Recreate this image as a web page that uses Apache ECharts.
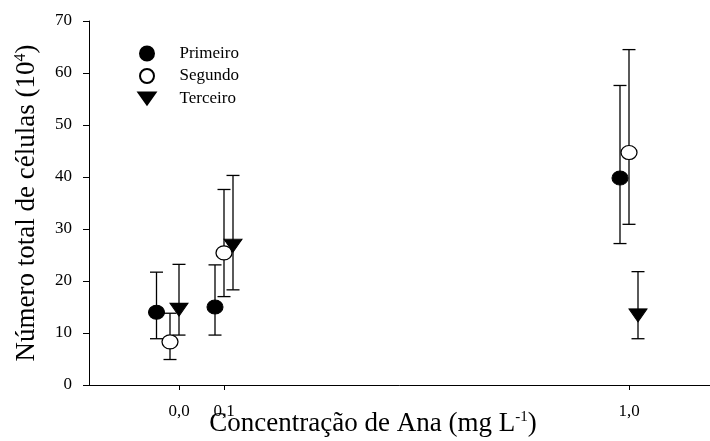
<!DOCTYPE html>
<html>
<head>
<meta charset="utf-8">
<script src="https://cdn.jsdelivr.net/npm/echarts@6/dist/echarts.min.js"></script>
<style>
html,body{margin:0;padding:0;background:#fff;}
#chart{width:710px;height:441px;}
</style>
</head>
<body>
<div id="chart"></div>
<script>
// ---- data ----
var seriesNames = ['Primeiro', 'Segundo', 'Terceiro'];
var xTickValues = [0.0, 0.1, 1.0];

var xPrimeiro = [-0.05, 0.08, 0.98];
var yPrimeiro = [14.0, 15.0, 39.8];
var loPrimeiro = [8.9, 9.6, 27.2];
var hiPrimeiro = [21.7, 23.1, 57.6];

var xSegundo = [-0.02, 0.10, 1.00];
var ySegundo = [8.3, 25.4, 44.7];
var loSegundo = [4.9, 17.0, 30.9];
var hiSegundo = [13.8, 37.6, 64.5];

var xTerceiro = [0.0, 0.12, 1.02];
var yTerceiro = [14.5, 26.8, 13.4];
var loTerceiro = [9.6, 18.3, 8.9];
var hiTerceiro = [23.2, 40.3, 21.8];

// ---- build ----
function pts(xs, ys) { return xs.map(function (x, i) { return [x, ys[i]]; }); }
function errs(xs, lo, hi) { return xs.map(function (x, i) { return [x, lo[i], hi[i]]; }); }
var errData = [].concat(
  errs(xPrimeiro, loPrimeiro, hiPrimeiro),
  errs(xSegundo, loSegundo, hiSegundo),
  errs(xTerceiro, loTerceiro, hiTerceiro)
);

var FONT = '"Liberation Serif", "Times New Roman", serif';
var DOWN_TRI = 'path://M0,0L20,0L10,14Z';

function renderErr(params, api) {
  var x = api.value(0);
  var p1 = api.coord([x, api.value(1)]);
  var p2 = api.coord([x, api.value(2)]);
  var hw = 6.5;
  var st = { stroke: '#000', lineWidth: 1.3 };
  return {
    type: 'group',
    children: [
      { type: 'line', shape: { x1: p1[0], y1: p1[1], x2: p2[0], y2: p2[1] }, style: st },
      { type: 'line', shape: { x1: p1[0] - hw, y1: p1[1], x2: p1[0] + hw, y2: p1[1] }, style: st },
      { type: 'line', shape: { x1: p2[0] - hw, y1: p2[1], x2: p2[0] + hw, y2: p2[1] }, style: st }
    ]
  };
}

var chart = echarts.init(document.getElementById('chart'), null, { renderer: 'canvas' });
chart.setOption({
  animation: false,
  backgroundColor: '#fff',
  textStyle: { fontFamily: FONT },
  grid: { left: 89, top: 21, width: 630, height: 364, containLabel: false, outerBoundsMode: 'none' },
  legend: {
    data: [
      { name: 'Primeiro' },
      { name: 'Segundo' },
      { name: 'Terceiro', icon: DOWN_TRI }
    ],
    orient: 'vertical',
    left: 137.5,
    top: 45,
    padding: 0,
    itemWidth: 17,
    itemHeight: 14,
    itemGap: 5.5,
    textStyle: { fontFamily: FONT, fontSize: 17, color: '#000', padding: [0, 0, 0, 19] }
  },
  xAxis: {
    type: 'value',
    min: -0.2,
    max: 1.2,
    splitLine: { show: false },
    axisLine: { onZero: false, lineStyle: { color: '#000', width: 1 } },
    axisTick: { show: true, length: 5, customValues: xTickValues, lineStyle: { color: '#000' } },
    axisLabel: {
      customValues: xTickValues,
      margin: 18,
      fontFamily: FONT,
      fontSize: 17,
      color: '#000',
      formatter: function (v) { return v.toFixed(1).replace('.', ','); }
    },
    name: '{a|Concentração de Ana (mg L}{s|-1}{a|)}',
    nameLocation: 'middle',
    nameGap: 25,
    nameMoveOverlap: false,
    nameTextStyle: {
      padding: [0, 62, 0, 0],
      rich: {
        a: { fontFamily: FONT, fontSize: 27, color: '#000' },
        s: { fontFamily: FONT, fontSize: 15, color: '#000', verticalAlign: 'top', padding: [0, 0, 11, 0] }
      }
    }
  },
  yAxis: {
    type: 'value',
    min: 0,
    max: 70,
    interval: 10,
    splitLine: { show: false },
    axisLine: { show: true, onZero: false, lineStyle: { color: '#000', width: 1 } },
    axisTick: { show: true, length: 6, lineStyle: { color: '#000' } },
    axisLabel: { margin: 17, fontFamily: FONT, fontSize: 17, color: '#000' },
    name: '{a|Número total de células (10}{s|4}{a|)}',
    nameLocation: 'middle',
    nameGap: 48,
    nameMoveOverlap: false,
    nameTextStyle: {
      rich: {
        a: { fontFamily: FONT, fontSize: 27, color: '#000' },
        s: { fontFamily: FONT, fontSize: 16, color: '#000', verticalAlign: 'top', padding: [0, 0, 12, 0] }
      }
    }
  },
  series: [
    {
      type: 'custom',
      name: 'err',
      renderItem: renderErr,
      data: errData,
      encode: { x: 0, y: [1, 2] },
      z: 1,
      silent: true
    },
    {
      type: 'scatter', name: 'Primeiro', data: pts(xPrimeiro, yPrimeiro),
      symbol: 'circle', symbolSize: [16, 14], z: 3,
      itemStyle: { color: '#000', borderColor: '#000', borderWidth: 1, opacity: 1 }
    },
    {
      type: 'scatter', name: 'Segundo', data: pts(xSegundo, ySegundo),
      symbol: 'circle', symbolSize: [16, 14], z: 3,
      itemStyle: { color: '#fff', borderColor: '#000', borderWidth: 1.2, opacity: 1 }
    },
    {
      type: 'scatter', name: 'Terceiro', data: pts(xTerceiro, yTerceiro),
      symbol: DOWN_TRI, symbolSize: [18, 13], z: 3,
      itemStyle: { color: '#000', borderColor: '#000', borderWidth: 1, opacity: 1 }
    }
  ]
});
</script>
</body>
</html>
